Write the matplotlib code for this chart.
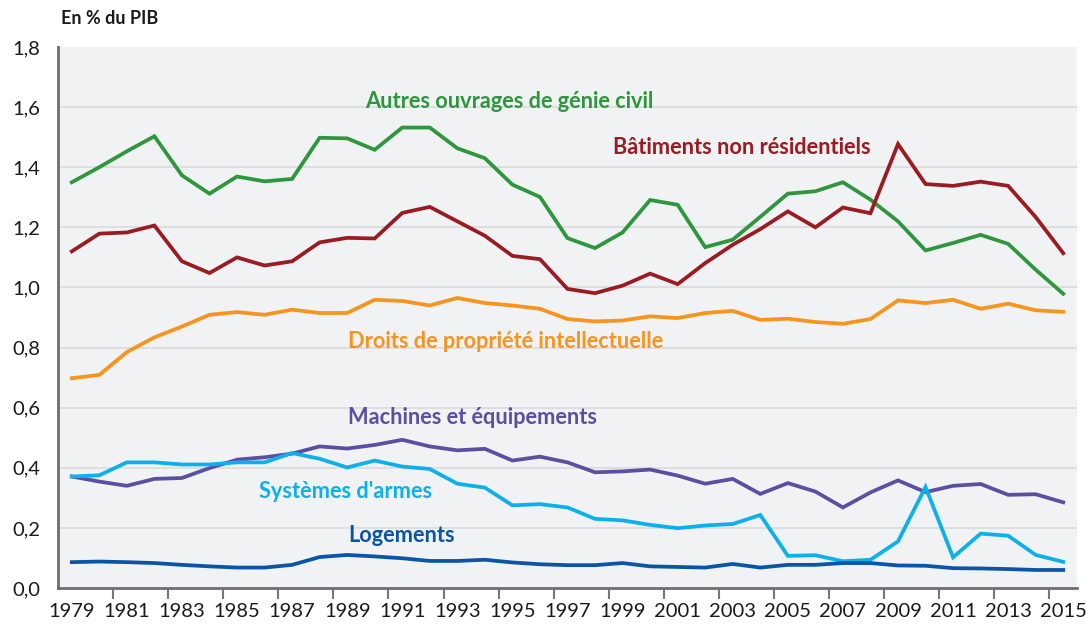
import matplotlib
matplotlib.use("Agg")
import matplotlib.pyplot as plt
from matplotlib.ticker import FixedLocator, FuncFormatter

plt.rcParams['font.family'] = ['Lato', 'DejaVu Sans']

years = list(range(1979, 2016))

genie_civil = [1.350, 1.400, 1.453, 1.503, 1.373, 1.312, 1.369, 1.353, 1.361, 1.498,
               1.496, 1.458, 1.532, 1.532, 1.463, 1.430, 1.342, 1.301, 1.164, 1.131,
               1.183, 1.291, 1.275, 1.134, 1.159, 1.235, 1.312, 1.320, 1.350, 1.292,
               1.220, 1.123, 1.148, 1.175, 1.145, 1.059, 0.979]

batiments = [1.120, 1.179, 1.183, 1.206, 1.087, 1.048, 1.100, 1.073, 1.087, 1.150,
             1.165, 1.163, 1.248, 1.268, 1.220, 1.172, 1.105, 1.094, 0.995, 0.981,
             1.006, 1.046, 1.011, 1.081, 1.142, 1.194, 1.253, 1.200, 1.266, 1.247,
             1.477, 1.344, 1.338, 1.352, 1.338, 1.234, 1.114]

propriete_int = [0.698, 0.709, 0.785, 0.834, 0.870, 0.909, 0.918, 0.909, 0.926, 0.915,
                 0.915, 0.959, 0.955, 0.940, 0.965, 0.948, 0.940, 0.929, 0.895, 0.887,
                 0.890, 0.904, 0.898, 0.915, 0.922, 0.892, 0.896, 0.885, 0.879, 0.895,
                 0.957, 0.948, 0.959, 0.929, 0.946, 0.924, 0.919]

machines = [0.371, 0.354, 0.340, 0.363, 0.366, 0.399, 0.427, 0.435, 0.447, 0.471,
            0.464, 0.476, 0.493, 0.471, 0.458, 0.463, 0.424, 0.437, 0.418, 0.385,
            0.388, 0.394, 0.374, 0.347, 0.363, 0.313, 0.349, 0.321, 0.268, 0.318,
            0.358, 0.319, 0.340, 0.346, 0.310, 0.312, 0.285]

armes = [0.371, 0.375, 0.418, 0.418, 0.411, 0.411, 0.418, 0.418, 0.449, 0.430,
         0.401, 0.424, 0.404, 0.396, 0.347, 0.334, 0.275, 0.279, 0.268, 0.230,
         0.225, 0.210, 0.199, 0.208, 0.213, 0.243, 0.107, 0.109, 0.089, 0.094,
         0.155, 0.336, 0.102, 0.181, 0.174, 0.110, 0.087]

logements = [0.086, 0.088, 0.086, 0.083, 0.077, 0.072, 0.068, 0.068, 0.077, 0.103,
             0.110, 0.105, 0.099, 0.090, 0.090, 0.094, 0.085, 0.079, 0.076, 0.076,
             0.083, 0.072, 0.070, 0.068, 0.080, 0.068, 0.077, 0.077, 0.083, 0.083,
             0.075, 0.074, 0.066, 0.065, 0.063, 0.060, 0.060]

series = [
    ("Autres ouvrages de génie civil", genie_civil, "#2e963c", 365, 102),
    ("Bâtiments non résidentiels", batiments, "#9b1b22", 613, 147),
    ("Droits de propriété intellectuelle", propriete_int, "#f7941d", 348, 341),
    ("Machines et équipements", machines, "#5b4fa2", 348, 418),
    ("Systèmes d'armes", armes, "#0cb0ea", 259, 492),
    ("Logements", logements, "#0a55a5", 348, 536),
]

W, H = 1086, 625
fig = plt.figure(figsize=(W / 100, H / 100), dpi=100)
ax = fig.add_axes([58 / W, (H - 588) / H, (1077 - 58) / W, (588 - 47) / H])
ax.set_facecolor("#f0f2f4")

for name, vals, col, tx, ty in series:
    ax.plot(years, vals, color=col, lw=2.7, solid_joinstyle="miter", zorder=3)
    fig.text(tx / W, 1 - ty / H, name, color=col, fontsize=15.7, fontweight="bold",
             ha="left", va="center")

ax.set_xlim(1978.5, 2015.5)
ax.set_ylim(0, 1.8)

ax.yaxis.set_major_locator(FixedLocator([i * 0.2 for i in range(10)]))
ax.yaxis.set_major_formatter(FuncFormatter(lambda v, p: f"{v:.1f}".replace(".", ",")))
ax.tick_params(axis="y", length=0, pad=13, labelsize=14.5, colors="#1a1a1a")
for v in [i * 0.2 for i in range(1, 9)]:
    ax.axhline(v, color="#d9dadd", lw=1.2, zorder=1)

ax.xaxis.set_major_locator(FixedLocator(years[::2]))
ax.xaxis.set_minor_locator(FixedLocator([y + 1.5 for y in years[::2]][:-1]))
ax.tick_params(axis="x", which="major", length=0, pad=11, labelsize=14.5, colors="#1a1a1a")
ax.tick_params(axis="x", which="minor", length=8, width=1.5, color="#777777")

for s in ["top", "right"]:
    ax.spines[s].set_visible(False)
for s in ["left", "bottom"]:
    ax.spines[s].set_color("#6e6e6e")
    ax.spines[s].set_linewidth(2)

fig.text(61 / W, 1 - 18 / H, "En % du PIB", fontsize=13, fontweight="bold",
         color="#1a1a1a", ha="left", va="center")

fig.savefig("out.png", dpi=100, facecolor="white")
